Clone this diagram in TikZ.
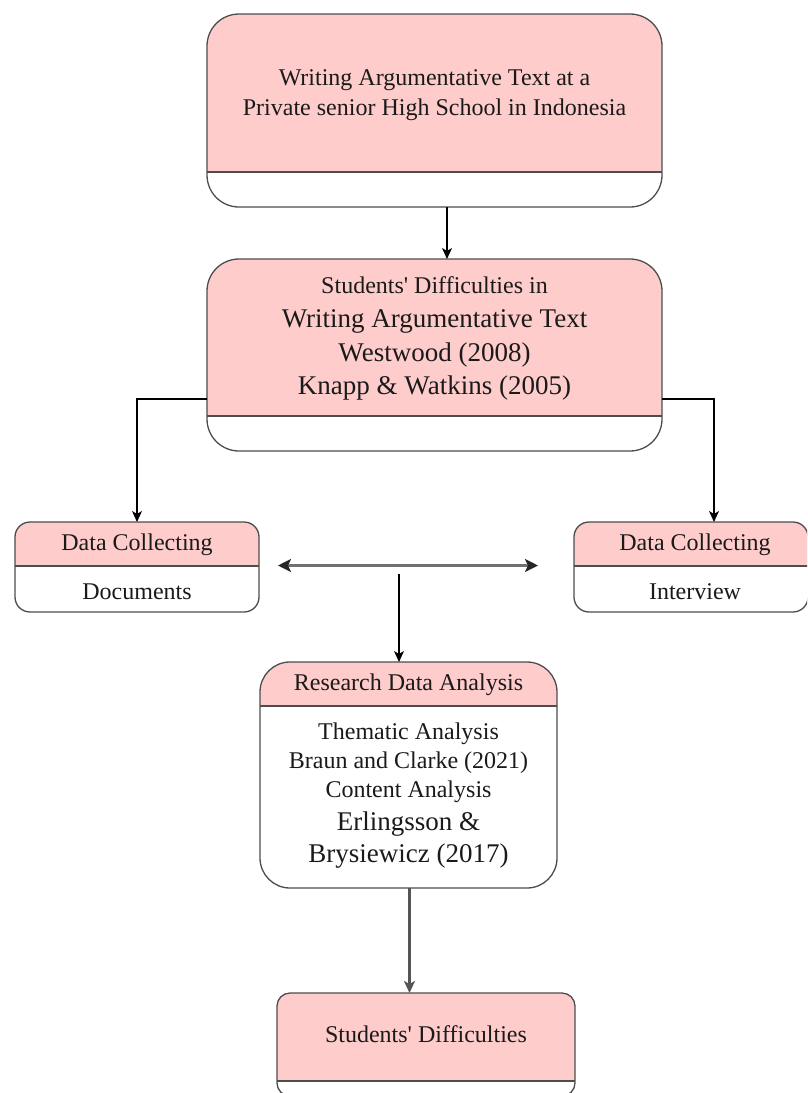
\documentclass[tikz,border=0pt]{standalone}
\usepackage{fontspec}
\setmainfont{Liberation Serif}
\usetikzlibrary{arrows.meta}
\definecolor{pinkfill}{HTML}{FFCCCC}
\definecolor{edgec}{HTML}{4D4D4D}
\definecolor{grayarrow}{HTML}{555555}
\definecolor{grayline}{HTML}{707070}
\definecolor{textc}{HTML}{1A1A1A}
\tikzset{
  card/.style={draw=edgec, line width=1.3pt, fill=white, inner sep=0pt, outer sep=0pt},
  head/.style={path picture={
      \fill[pinkfill, sharp corners] (path picture bounding box.north west) rectangle ([yshift=-#1]path picture bounding box.north east);
      \draw[edgec, line width=1.3pt, sharp corners] ([yshift=-#1]path picture bounding box.north west) -- ([yshift=-#1]path picture bounding box.north east);}},
  txt/.style={inner sep=0pt, anchor=base, text=textc, font=\fontsize{24}{30}\selectfont},
  txtbig/.style={txt, font=\fontsize{27}{33}\selectfont},
  arr/.style={draw=black, line width=1.4pt, -{Stealth[length=11pt, width=10pt, inset=3pt]}},
  garr/.style={draw=grayarrow, line width=2.4pt, -{Stealth[length=12pt, width=11pt, inset=3pt]}},
  darr/.style={draw=grayline, line width=2.6pt, {Stealth[length=13pt, width=13pt, inset=3pt, color=black!85]}-{Stealth[length=13pt, width=13pt, inset=3pt, color=black!85]}},
}
\begin{document}
\begin{tikzpicture}[x=1pt, y=-1pt]
\path[use as bounding box] (0,0) rectangle (807,1093);
\clip (0,0) rectangle (807,1093);

% top box
\node[card, head=158pt, rounded corners=32pt, minimum width=455pt, minimum height=193pt] (top) at (434.5,110.5) {};
\node[txt] (top1) at (434.5,85.5) {Writing Argumentative Text at a};
\node[txt] (top2) at (434.5,115.5) {Private senior High School in Indonesia};

% second box
\node[card, head=157pt, rounded corners=32pt, minimum width=455pt, minimum height=192pt] (box2) at (434.5,355) {};
\node[txt] (b21) at (434.5,293) {Students\textquotesingle{} Difficulties in};
\node[txtbig] (b22) at (434.5,327.5) {Writing Argumentative Text};
\node[txtbig] (b23) at (434.5,361) {Westwood (2008)};
\node[txtbig] (b24) at (434.5,394.5) {Knapp \& Watkins (2005)};

% data collecting boxes
\node[card, head=44pt, rounded corners=15pt, minimum width=244pt, minimum height=90pt] (dcl) at (137,567) {};
\node[txt] (dcl1) at (137,550) {Data Collecting};
\node[txt] (dcl2) at (137,599) {Documents};

\node[card, head=44pt, rounded corners=15pt, minimum width=234pt, minimum height=90pt] (dcr) at (691,567) {};
\node[txt] (dcr1) at (695,550) {Data Collecting};
\node[txt] (dcr2) at (695,599) {Interview};

% research box
\node[card, head=44pt, rounded corners=30pt, minimum width=297pt, minimum height=226pt] (rda) at (408.5,775) {};
\node[txt] (r0) at (408.5,690) {Research Data Analysis};
\node[txt] (r1) at (408.5,739.5) {Thematic Analysis};
\node[txt] (r2) at (408.5,768) {Braun and Clarke (2021)};
\node[txt] (r3) at (408.5,797) {Content Analysis};
\node[txtbig] (r4) at (408.5,830.5) {Erlingsson \&};
\node[txtbig] (r5) at (408.5,862) {Brysiewicz (2017)};

% bottom box
\node[card, head=88pt, rounded corners=13pt, minimum width=298pt, minimum height=103pt] (bot) at (426,1044.5) {};
\node[txt] (bot1) at (426,1042.5) {Students\textquotesingle{} Difficulties};

% connectors
\draw[arr] ([xshift=12.5pt]top.south) -- ([xshift=12.5pt]top.south |- box2.north);
\draw[arr] ([yshift=-44pt]box2.west) -| (dcl.north);
\draw[arr] ([yshift=-44pt]box2.east) -| ([xshift=23pt]dcr.north);

\coordinate (dl) at (278,565.5);
\coordinate (dr) at (538,565.5);
\draw[darr] (dl) -- (dr);

\coordinate (vtop) at (399,574);
\draw[arr] (vtop) -- (vtop |- rda.north);

\draw[garr] ([xshift=1pt]rda.south) -- ([xshift=1pt]rda.south |- bot.north);
\end{tikzpicture}
\end{document}
